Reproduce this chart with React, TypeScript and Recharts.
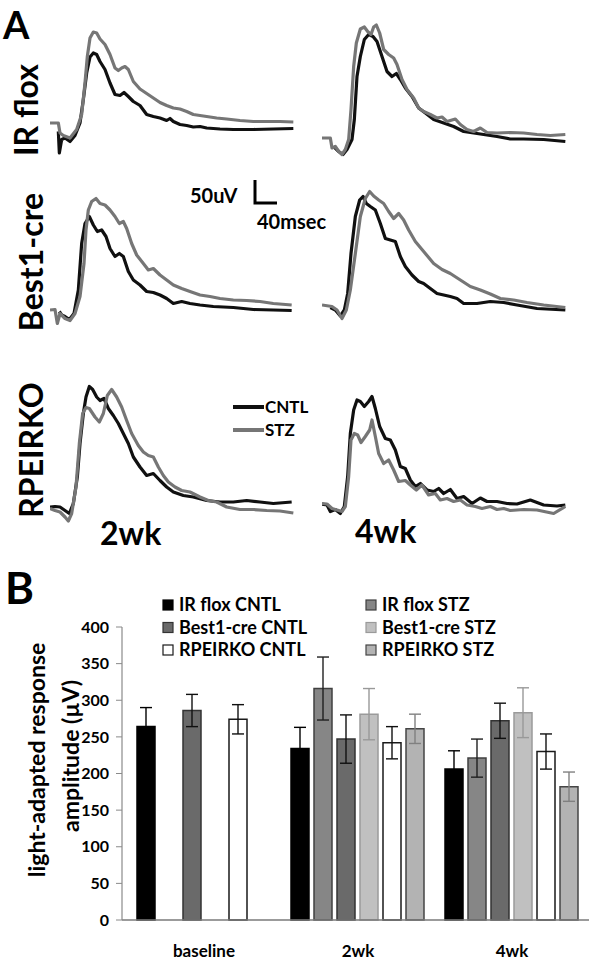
import {
  LineChart,
  Line,
  BarChart,
  Bar,
  XAxis,
  YAxis,
  ErrorBar,
} from "recharts";

// ---- panel A: ERG traces, [time ms, amplitude uV] ----
const irFlox2wkCntl: [number, number][] = [
  [12.5, -17], [14, -60], [17.5, -33], [22.5, -30], [30, -37], [37.5, -25], [45, 0], [50, 47],
  [55, 100], [60, 132], [65, 140], [70, 137], [75, 123], [82.5, 107], [90, 80], [97.5, 57],
  [105, 55], [111, 61], [117.5, 53], [125, 43], [135, 35], [145, 17], [155, 13], [165, 10],
  [175, 5], [180, 9], [185, 3], [195, -3], [205, -5], [215, -8], [225, -7], [235, -10],
  [255, -12], [275, -13], [305, -13], [335, -12], [365, -11],
];
const irFlox2wkStz: [number, number][] = [
  [0, 0], [12.5, 0], [15, -20], [20, -25], [30, -30], [40, -13], [47.5, 17], [52.5, 80],
  [56, 133], [60, 170], [65, 182], [70, 180], [75, 168], [82.5, 157], [90, 137], [97.5, 110],
  [102.5, 105], [107.5, 110], [112.5, 113], [117.5, 107], [125, 83], [135, 68], [145, 59],
  [155, 50], [165, 41], [175, 35], [185, 30], [195, 28], [205, 23], [215, 17], [225, 15],
  [235, 13], [250, 10], [265, 8], [285, 5], [305, 3], [325, 3], [345, 3], [365, 2],
];
const irFlox4wkCntl: [number, number][] = [
  [17.5, -17], [25, -27], [31.5, -33], [37.5, -23], [45, -3], [48.5, 37], [52.5, 123],
  [57.5, 163], [63.5, 197], [70, 207], [76.5, 203], [82.5, 193], [90, 163], [97.5, 133],
  [105, 123], [111.5, 129], [117.5, 117], [125, 100], [135, 83], [145, 60], [155, 50],
  [167.5, 37], [182.5, 30], [197.5, 23], [212.5, 13], [227.5, 10], [242.5, 7], [262.5, 3],
  [282.5, -2], [302.5, -2], [332.5, -3], [365, -7],
];
const irFlox4wkStz: [number, number][] = [
  [0, 0], [12.5, 0], [15, -20], [20, -17], [25, -27], [30, -33], [35, -23], [40, -3],
  [43.5, 57], [47.5, 143], [51.5, 190], [57.5, 218], [63.5, 222], [68.5, 213], [73.5, 207],
  [77.5, 222], [81.5, 226], [86.5, 210], [92.5, 177], [100, 167], [107.5, 160], [112.5, 147],
  [120, 117], [127.5, 97], [137.5, 80], [145, 60], [152.5, 53], [162.5, 47], [172.5, 40],
  [180, 42], [187.5, 33], [200, 38], [207.5, 27], [217.5, 17], [227.5, 13], [237.5, 20],
  [247.5, 11], [262.5, 10], [282.5, 11], [302.5, 10], [322.5, 7], [342.5, 5], [365, 7],
];
const best12wkCntl: [number, number][] = [
  [14, -3], [17.5, -10], [22.5, -13], [29, -19], [36, -7], [42.5, 40], [47.5, 133],
  [52.5, 173], [59, 187], [65, 170], [71, 157], [77.5, 160], [84, 147], [90, 123],
  [97.5, 107], [104, 113], [110, 107], [117.5, 77], [125, 60], [135, 50], [145, 37],
  [155, 35], [165, 30], [175, 23], [185, 13], [197.5, 17], [210, 13], [225, 10], [245, 7],
  [275, 5], [305, 1], [335, 0], [362.5, -1],
];
const best12wkStz: [number, number][] = [
  [0, 0], [7.5, 1], [11, -27], [15, -7], [22.5, -17], [30, -21], [37.5, -7], [45, 27],
  [51, 93], [54, 160], [57.5, 200], [62.5, 217], [69, 223], [75, 213], [82.5, 210],
  [90, 200], [97.5, 187], [104, 173], [110, 177], [115, 163], [122.5, 133], [130, 110],
  [140, 93], [147.5, 80], [155, 83], [165, 70], [175, 60], [185, 50], [197.5, 43],
  [210, 37], [225, 30], [240, 27], [255, 23], [275, 20], [295, 19], [315, 17], [335, 13],
  [362.5, 10],
];
const best14wkCntl: [number, number][] = [
  [12.5, -5], [20, -10], [27.5, -22], [33.5, -10], [38.5, 23], [43.5, 103], [50, 177],
  [56.5, 210], [61.5, 217], [66.5, 203], [72.5, 197], [80, 190], [87.5, 163], [95, 133],
  [102.5, 130], [110, 127], [117.5, 97], [125, 77], [135, 60], [145, 47], [152.5, 43],
  [162.5, 33], [172.5, 23], [182.5, 20], [192.5, 17], [202.5, 13], [212.5, 3], [232.5, 3],
  [252.5, 7], [272.5, 5], [292.5, 0], [322.5, -7], [365, -10],
];
const best14wkStz: [number, number][] = [
  [0, 0], [10, -2], [15, -3], [22.5, -10], [30, -27], [36.5, -10], [42.5, 30], [50, 103],
  [57.5, 177], [65, 213], [71.5, 227], [77.5, 218], [85, 210], [92.5, 203], [100, 187],
  [107.5, 173], [115, 183], [122.5, 170], [130, 150], [140, 127], [152.5, 107], [167.5, 83],
  [180, 71], [192.5, 63], [207.5, 50], [222.5, 37], [237.5, 30], [252.5, 22], [267.5, 13],
  [287.5, 10], [307.5, 5], [332.5, 0], [365, -5],
];
const rpeirko2wkCntl: [number, number][] = [
  [0, 0], [7.5, 1], [15, 0], [22.5, -7], [29, -13], [35, 7], [41, 60], [45, 127], [50, 187],
  [54, 220], [59, 241], [64, 235], [70, 220], [75, 213], [81, 217], [87.5, 197], [95, 183],
  [102.5, 167], [110, 147], [117.5, 127], [125, 100], [135, 80], [145, 63], [155, 67],
  [165, 53], [175, 40], [185, 30], [200, 23], [215, 20], [235, 13], [255, 10], [275, 10],
  [295, 13], [315, 10], [335, 7], [362.5, 10],
];
const rpeirko2wkStz: [number, number][] = [
  [0, -3], [7.5, -7], [15, -10], [22.5, -20], [27.5, -28], [32.5, -13], [39, 40], [44, 127],
  [49, 187], [54, 199], [59, 197], [67.5, 180], [74, 170], [80, 187], [86, 223], [92.5, 235],
  [100, 220], [107.5, 200], [115, 173], [122.5, 147], [132.5, 123], [140, 110], [147.5, 103],
  [155, 100], [162.5, 80], [170, 63], [177.5, 50], [187.5, 40], [197.5, 33], [210, 30],
  [225, 20], [237.5, 13], [250, 10], [265, 0], [285, -5], [305, -5], [325, -7], [345, -8],
  [365, -12],
];
const rpeirko4wkCntl: [number, number][] = [
  [0, 0], [7.5, -2], [12.5, -15], [20, -11], [27.5, -19], [33.5, -5], [38.5, 55],
  [42.5, 141], [47.5, 188], [52.5, 208], [57.5, 205], [63.5, 195], [70, 205], [75, 215],
  [80, 191], [86.5, 155], [95, 131], [102.5, 128], [110, 108], [117.5, 75], [125, 71],
  [132.5, 48], [140, 35], [147.5, 41], [157.5, 28], [167.5, 25], [175, 31], [182.5, 21],
  [192.5, 29], [202.5, 11], [212.5, 15], [225, 1], [237.5, 12], [247.5, 5], [262.5, 5],
  [277.5, 1], [292.5, 0], [312.5, 8], [332.5, -2], [352.5, -4], [365, -2],
];
const rpeirko4wkStz: [number, number][] = [
  [0, 1], [7.5, 0], [15, -9], [22.5, -12], [30, -15], [35, -5], [40, 55], [43.5, 128],
  [48.5, 141], [53.5, 138], [58.5, 123], [65, 135], [71.5, 148], [75, 168], [80, 135],
  [85, 101], [92.5, 81], [100, 88], [107.5, 68], [115, 45], [125, 47], [132.5, 38],
  [141.5, 28], [150, 38], [160, 18], [170, 21], [177.5, 8], [187.5, 11], [197.5, 5],
  [207.5, 8], [217.5, -2], [230, -5], [240, -9], [252.5, -5], [262.5, -11], [272.5, -9],
  [282.5, -13], [302.5, -11], [322.5, -12], [347.5, -19], [365, -5],
];

// ---- panel B: light-adapted response amplitude (uV), mean and SEM ----
const categories = ["baseline", "2wk", "4wk"];
const irFloxCntl = [264, 234, 206];
const irFloxCntlErr = [26, 29, 25];
const irFloxStz = [null, 316, 221];
const irFloxStzErr = [null, 43, 26];
const best1Cntl = [286, 247, 272];
const best1CntlErr = [22, 33, 24];
const best1Stz = [null, 281, 283];
const best1StzErr = [null, 35, 34];
const rpeirkoCntl = [274, 242, 230];
const rpeirkoCntlErr = [20, 22, 24];
const rpeirkoStz = [null, 261, 182];
const rpeirkoStzErr = [null, 20, 20];
const yTicks = [0, 50, 100, 150, 200, 250, 300, 350, 400];

const FONT = "Lato, 'Open Sans', sans-serif";
const CNTL_COLOR = "#101010";
const STZ_COLOR = "#767676";

const panels = [
  { key: "a1", cntl: irFlox2wkCntl, stz: irFlox2wkStz, left: 50, top: -2 },
  { key: "a2", cntl: irFlox4wkCntl, stz: irFlox4wkStz, left: 322, top: 13 },
  { key: "a3", cntl: best12wkCntl, stz: best12wkStz, left: 50, top: 185 },
  { key: "a4", cntl: best14wkCntl, stz: best14wkStz, left: 322, top: 180 },
  { key: "a5", cntl: rpeirko2wkCntl, stz: rpeirko2wkStz, left: 50, top: 382 },
  { key: "a6", cntl: rpeirko4wkCntl, stz: rpeirko4wkStz, left: 322, top: 379 },
];

const series = [
  { key: "s0", name: "IR flox CNTL", vals: irFloxCntl, errs: irFloxCntlErr, fill: "#000000", stroke: "#000000", err: "#000000" },
  { key: "s1", name: "IR flox STZ", vals: irFloxStz, errs: irFloxStzErr, fill: "#868686", stroke: "#404040", err: "#202020" },
  { key: "s2", name: "Best1-cre CNTL", vals: best1Cntl, errs: best1CntlErr, fill: "#6a6a6a", stroke: "#333333", err: "#101010" },
  { key: "s3", name: "Best1-cre STZ", vals: best1Stz, errs: best1StzErr, fill: "#c0c0c0", stroke: "#9a9a9a", err: "#999999" },
  { key: "s4", name: "RPEIRKO CNTL", vals: rpeirkoCntl, errs: rpeirkoCntlErr, fill: "#ffffff", stroke: "#1a1a1a", err: "#101010" },
  { key: "s5", name: "RPEIRKO STZ", vals: rpeirkoStz, errs: rpeirkoStzErr, fill: "#b3b3b3", stroke: "#454545", err: "#808080" },
];

const barData = categories.map((name, i) => {
  const row: Record<string, string | number | null> = { name };
  series.forEach((s) => {
    row[s.key] = s.vals[i];
    row[s.key + "e"] = s.errs[i];
  });
  return row;
});

const toPts = (arr: [number, number][]) => arr.map(([t, v]) => ({ t, v }));

function Trace({ cntl, stz }: { cntl: [number, number][]; stz: [number, number][] }) {
  return (
    <LineChart width={250} height={160} margin={{ top: 0, right: 0, bottom: 0, left: 0 }}>
      <XAxis type="number" dataKey="t" domain={[0, 375]} hide />
      <YAxis type="number" domain={[-70, 250]} hide />
      <Line data={toPts(cntl)} dataKey="v" stroke={CNTL_COLOR} strokeWidth={3.2} dot={false} isAnimationActive={false} strokeLinejoin="round" />
      <Line data={toPts(stz)} dataKey="v" stroke={STZ_COLOR} strokeWidth={3.2} dot={false} isAnimationActive={false} strokeLinejoin="round" />
    </LineChart>
  );
}

export default function App() {
  const bold = { fontFamily: FONT, fontWeight: 700, fill: "#000" };
  return (
    <div style={{ position: "absolute", left: 0, top: 0, width: 589, height: 960, background: "#fff", overflow: "hidden" }}>
      {panels.map((p) => (
        <div key={p.key} style={{ position: "absolute", left: p.left, top: p.top }}>
          <Trace cntl={p.cntl} stz={p.stz} />
        </div>
      ))}

      <div style={{ position: "absolute", left: 0, top: 600 }}>
        <BarChart width={589} height={360} data={barData} margin={{ top: 27, right: 0, bottom: 0, left: 0 }} barGap={5} barCategoryGap={10}>
          <XAxis
            dataKey="name"
            height={40}
            padding={{ left: 5, right: 0 }}
            axisLine={{ stroke: "#7a7a7a", strokeWidth: 1.5 }}
            tickLine={false}
            tickMargin={19}
            tick={{ fontSize: 17, fontWeight: 700, fill: "#000", fontFamily: FONT }}
          />
          <YAxis
            width={122}
            domain={[0, 400]}
            ticks={yTicks}
            interval={0}
            axisLine={{ stroke: "#8a8a8a", strokeWidth: 1.2 }}
            tickLine={{ stroke: "#8a8a8a" }}
            tickSize={6}
            tickMargin={7}
            tick={{ fontSize: 16, fontWeight: 700, fill: "#000", fontFamily: FONT }}
          />
          {series.map((s) => (
            <Bar key={s.key} dataKey={s.key} name={s.name} fill={s.fill} stroke={s.stroke} strokeWidth={1.5} isAnimationActive={false}>
              <ErrorBar dataKey={s.key + "e"} width={6} stroke={s.err} strokeWidth={1.4} direction="y" />
            </Bar>
          ))}
        </BarChart>
      </div>

      <svg width={589} height={960} style={{ position: "absolute", left: 0, top: 0, pointerEvents: "none" }}>
        <text x={3} y={39} fontSize={38} {...bold}>A</text>
        <text transform="translate(38,110) rotate(-90)" textAnchor="middle" fontSize={32} {...bold}>IR flox</text>
        <text transform="translate(43,262) rotate(-90)" textAnchor="middle" fontSize={32} {...bold}>Best1-cre</text>
        <text transform="translate(43,450) rotate(-90)" textAnchor="middle" fontSize={32} {...bold}>RPEIRKO</text>
        <text x={100} y={545} fontSize={32} {...bold}>2wk</text>
        <text x={355} y={543} fontSize={32} {...bold}>4wk</text>

        <text x={190} y={203} fontSize={20} {...bold}>50uV</text>
        <polyline points="255,180 255,203 277,203" fill="none" stroke="#000" strokeWidth={3} />
        <text x={257} y={229} fontSize={20} {...bold}>40msec</text>

        <line x1={233} y1={407} x2={264} y2={407} stroke={CNTL_COLOR} strokeWidth={4} />
        <text x={265} y={413} fontSize={17} {...bold}>CNTL</text>
        <line x1={233} y1={430} x2={264} y2={430} stroke={STZ_COLOR} strokeWidth={4} />
        <text x={265} y={436} fontSize={17} {...bold}>STZ</text>

        <text x={5} y={604} fontSize={44} {...bold}>B</text>
        <text transform="translate(45,760) rotate(-90)" textAnchor="middle" fontSize={23} {...bold}>light-adapted response</text>
        <text transform="translate(79,756) rotate(-90)" textAnchor="middle" fontSize={23} {...bold}>amplitude (µV)</text>

        {series.map((s, i) => {
          const col = i % 2;
          const row = Math.floor(i / 2);
          const x = col === 0 ? 163 : 366;
          const y = 605 + row * 22.5;
          return (
            <g key={s.key}>
              <rect x={x} y={y - 5} width={10} height={10} fill={s.fill} stroke={s.stroke} strokeWidth={1.2} />
              <text x={x + 16} y={y + 6} fontSize={18} {...bold}>{s.name}</text>
            </g>
          );
        })}
      </svg>
    </div>
  );
}
